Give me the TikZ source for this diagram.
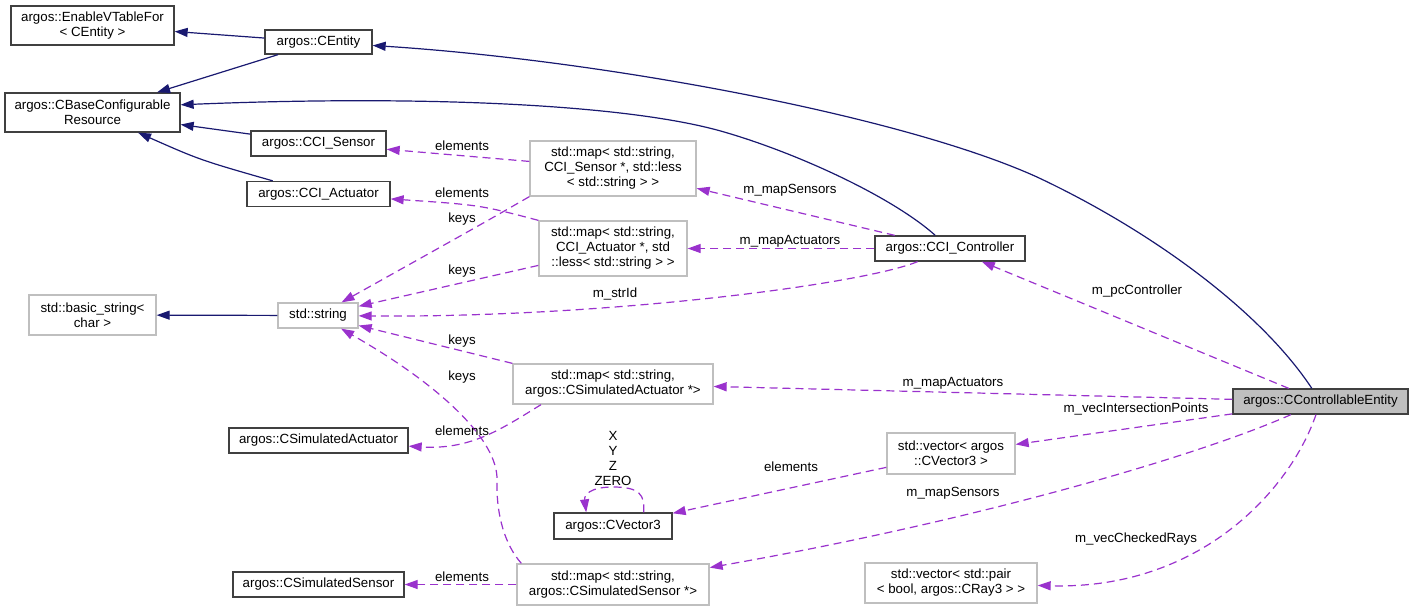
\documentclass[tikz,border=0pt]{standalone}
\usepackage{fontspec}
\setmainfont{Liberation Sans}
\usetikzlibrary{arrows.meta}
\definecolor{inhcol}{HTML}{191970}
\definecolor{usecol}{HTML}{9A32CD}
\definecolor{boxdark}{HTML}{404040}
\definecolor{boxgray}{HTML}{BFBFBF}

\begin{document}
\begin{tikzpicture}[x=1pt, y=-1pt, font=\fontsize{13.3}{15}\selectfont,
    cls/.style={draw=boxdark, line width=1.3pt, fill=white, inner sep=0pt, align=center},
    ext/.style={draw=boxgray, line width=1.3pt, fill=white, inner sep=0pt, align=center},
    lbl/.style={inner sep=0pt, align=center},
    inherit/.style={draw=inhcol, line width=1.2pt, -{Triangle[length=13pt, width=9pt]}},
    member/.style={draw=usecol, line width=1.2pt, dash pattern=on 8pt off 5pt, -{Triangle[length=13pt, width=9pt]}}]
    \useasboundingbox (0, 0) rectangle (1413, 611);

    \node[cls, minimum width=163pt, minimum height=39pt] (evt) at (92.5, 25.5) {argos::EnableVTableFor\\< CEntity >};
    \node[cls, minimum width=107pt, minimum height=24pt] (centity) at (318.5, 42) {argos::CEntity};
    \node[cls, minimum width=175pt, minimum height=39pt] (cbase) at (92.5, 112.5) {argos::CBaseConfigurable\\Resource};
    \node[cls, minimum width=135pt, minimum height=25pt] (ccisensor) at (318.5, 143.5) {argos::CCI\_Sensor};
    \node[cls, minimum width=143pt, minimum height=25pt] (cciact) at (318.5, 194) {argos::CCI\_Actuator};

    \node[ext, minimum width=127pt, minimum height=40pt] (basicstr) at (92.5, 315) {std::basic\_string<\\ char >};
    \node[ext, minimum width=80pt, minimum height=25pt] (stdstr) at (318, 315.5) {std::string};
    \node[cls, minimum width=179pt, minimum height=25pt] (simact) at (318.5, 440.5) {argos::CSimulatedActuator};
    \node[cls, minimum width=171pt, minimum height=25pt] (simsens) at (318.5, 584.5) {argos::CSimulatedSensor};

    \node[ext, minimum width=166pt, minimum height=55pt] (mapccis) at (613, 168.5) {std::map< std::string,\\ CCI\_Sensor *, std::less\\< std::string > >};
    \node[ext, minimum width=148pt, minimum height=55pt] (mapccia) at (613, 248.5) {std::map< std::string,\\CCI\_Actuator *, std\\::less< std::string > >};
    \node[ext, minimum width=200pt, minimum height=40pt] (mapsa) at (613, 384) {std::map< std::string,\\ argos::CSimulatedActuator *>};
    \node[cls, minimum width=118pt, minimum height=26pt] (cvec3) at (613, 526) {argos::CVector3};
    \node[ext, minimum width=192pt, minimum height=41pt] (mapss) at (613, 584.5) {std::map< std::string,\\ argos::CSimulatedSensor *>};

    \node[cls, minimum width=150pt, minimum height=25pt] (ccictrl) at (950, 248.5) {argos::CCI\_Controller};
    \node[ext, minimum width=128pt, minimum height=41pt] (veccv) at (951, 453.5) {std::vector< argos\\::CVector3 >};
    \node[ext, minimum width=172pt, minimum height=40pt] (vecpair) at (951, 583) {std::vector< std::pair\\< bool, argos::CRay3 > >};
    \node[cls, fill=boxgray, minimum width=175pt, minimum height=25pt] (cce) at (1320.5, 401.5) {argos::CControllableEntity};

    \draw[inherit] (centity) -- (evt);
    \draw[inherit] (centity) -- (cbase);
    \draw[inherit] (ccisensor) -- (cbase);
    \draw[inherit] (cciact) .. controls (200, 160) .. (cbase);
    \draw[inherit] (stdstr) -- (basicstr);
    \draw[inherit] (ccictrl) .. controls (890, 195) and (790, 150) .. (717, 130) .. controls (620, 104) and (420, 95) .. (cbase.5);
    \draw[inherit] (cce) .. controls (1260, 310) and (1150, 230) .. (1037, 177) .. controls (900, 115) and (600, 60) .. (centity);

    \draw[member] (mapccis) -- (ccisensor);
    \draw[member] (mapccis.south west) .. controls (480, 225) .. (stdstr);
    \draw[member] (mapccia.north west) .. controls (480, 205) .. (cciact);
    \draw[member] (mapccia) -- (stdstr);
    \node[lbl] (l-sens-elem) at (462, 146) {elements};
    \node[lbl] (l-act-elem) at (462, 193) {elements};
    \node[lbl] (l-sens-keys) at (462, 219) {keys};
    \node[lbl] (l-act-keys) at (462, 271) {keys};

    \draw[member] (ccictrl) -- (mapccis);
    \draw[member] (ccictrl) -- (mapccia);
    \draw[member] (ccictrl) .. controls (860, 285) and (600, 318) .. (stdstr);
    \node[lbl] (l-ctrl-sens) at (790, 190) {m\_mapSensors};
    \node[lbl] (l-ctrl-act) at (790, 241) {m\_mapActuators};
    \node[lbl] (l-strid) at (615, 294) {m\_strId};

    \draw[member] (mapsa.north west) -- (stdstr);
    \draw[member] (mapsa.196) .. controls (500, 430) and (470, 450) .. (simact);
    \draw[member] (mapss.167) .. controls (505, 545) and (496, 515) .. (497, 480) .. controls (498, 440) and (440, 385) .. (stdstr);
    \draw[member] (mapss) -- (simsens);
    \node[lbl] (l-sa-keys) at (462, 341) {keys};
    \node[lbl] (l-ss-keys) at (462, 377) {keys};
    \node[lbl] (l-sa-elem) at (462, 431) {elements};
    \node[lbl] (l-ss-elem) at (462, 577) {elements};

    \draw[member] (cvec3.24) .. controls (645, 495) and (640, 487) .. (613, 487) .. controls (590, 487) and (584, 495) .. (cvec3.153);
    \draw[member] (veccv) -- (cvec3);
    \node[lbl] (l-xyz) at (613, 458) {X\\Y\\Z\\ZERO};
    \node[lbl] (l-vec-elem) at (791, 467) {elements};

    \draw[member] (cce) -- (ccictrl);
    \draw[member] (cce) -- (mapsa);
    \draw[member] (cce) -- (veccv);
    \draw[member] (cce) .. controls (1200, 455) and (980, 520) .. (mapss);
    \draw[member] (cce) .. controls (1290, 490) and (1200, 590) .. (vecpair);
    \node[lbl] (l-pcctrl) at (1137, 291) {m\_pcController};
    \node[lbl] (l-cce-act) at (953, 383) {m\_mapActuators};
    \node[lbl] (l-isect) at (1136, 409) {m\_vecIntersectionPoints};
    \node[lbl] (l-cce-sens) at (953, 493) {m\_mapSensors};
    \node[lbl] (l-rays) at (1136, 539) {m\_vecCheckedRays};
\end{tikzpicture}
\end{document}
